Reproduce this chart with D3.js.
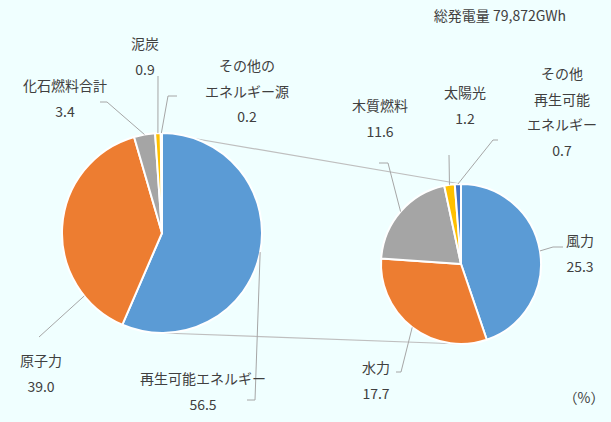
<!DOCTYPE html>
<html><head><meta charset="utf-8">
<script src="https://cdn.jsdelivr.net/npm/d3@7/dist/d3.min.js"></script>
<style>
html,body{margin:0;padding:0;background:#f0ffff;}
svg{display:block;}
text{font-family:"Noto Sans CJK JP","Noto Sans",sans-serif;font-size:14px;fill:#404040;}
</style></head>
<body><svg id="c" width="611" height="422"></svg>
<script>
// ---- data ----
const mainCategories = ["再生可能エネルギー","原子力","化石燃料合計","泥炭","その他のエネルギー源"];
const mainValues = [56.5, 39.0, 3.4, 0.9, 0.2];
const mainLabelLines = [["再生可能エネルギー"],["原子力"],["化石燃料合計"],["泥炭"],["その他の","エネルギー源"]];
const subCategories = ["風力","水力","木質燃料","太陽光","その他再生可能エネルギー"];
const subValues = [25.3, 17.7, 11.6, 1.2, 0.7];
const subLabelLines = [["風力"],["水力"],["木質燃料"],["太陽光"],["その他","再生可能","エネルギー"]];
const totalLabel = "総発電量 79,872GWh";
const unitLabel = "（%）";
const colors = ["#5B9BD5","#ED7D31","#A5A5A5","#FFC000","#4472C4"];

// ---- layout ----
const mainPie = {cx:162, cy:233, r:100};
const subPie = {cx:461, cy:264, r:80};
const lineGap = 25.5;
// label position (x center, y of first line) ; leader elbow points ; optional anchor angle (deg)
const mainLayout = [
  {x:203, y:378, elbow:[[247,400],[255,400]], angle:101},
  {x:41, y:360, elbow:[[39,337]], angle:231},
  {x:65, y:85, elbow:[[100,102],[107,102]]},
  {x:145, y:43, elbow:[[158,76]]},
  {x:247, y:65, elbow:[[177,96],[168,96]]}
];
const subLayout = [
  {x:580, y:240, elbow:[[563,247],[553,247]]},
  {x:376, y:367, elbow:[[396,372],[401,372]]},
  {x:380, y:105, elbow:[[379,163],[388,163]]},
  {x:465, y:92, elbow:[[449,155]]},
  {x:562, y:73, elbow:[[498,140],[493,140]]}
];

const svg = d3.select("#c");
const pie = d3.pie().sort(null).value(d=>d);
const rad = Math.PI/180;

function pt(p, ang){ // ang in radians, clockwise from 12 o'clock
  return [p.cx + p.r*Math.sin(ang), p.cy - p.r*Math.cos(ang)];
}

// connector lines between pies
const connG = svg.append("g");
[0, Math.PI].forEach(a=>{
  const a1 = pt(mainPie, a), a2 = pt(subPie, a);
  connG.append("line").attr("x1",a1[0]).attr("y1",a1[1]).attr("x2",a2[0]).attr("y2",a2[1])
    .attr("stroke","#BFBFBF").attr("stroke-width",1.2);
});

function drawPie(p, values, labelLines, layout){
  const arcs = pie(values);
  const arc = d3.arc().innerRadius(0).outerRadius(p.r);
  const g = svg.append("g").attr("transform",`translate(${p.cx},${p.cy})`);
  g.selectAll("path").data(arcs).enter().append("path")
    .attr("d",arc).attr("fill",(d,i)=>colors[i])
    .attr("stroke","#ffffff").attr("stroke-width",2).attr("stroke-linejoin","round");
  const lg = svg.append("g");
  arcs.forEach((d,i)=>{
    const L = layout[i];
    const ang = L.angle!==undefined ? L.angle*rad : (d.startAngle+d.endAngle)/2;
    const end = pt(p, ang);
    const pts = L.elbow.concat([end]);
    lg.append("path").attr("d", d3.line()(pts)).attr("fill","none")
      .attr("stroke","#A6A6A6").attr("stroke-width",1);
    const lines = labelLines[i].concat([values[i].toFixed(1)]);
    lines.forEach((t,k)=>{
      lg.append("text").attr("x",L.x).attr("y",L.y+k*lineGap)
        .attr("text-anchor","middle").attr("dominant-baseline","central").text(t);
    });
  });
}
drawPie(mainPie, mainValues, mainLabelLines, mainLayout);
drawPie(subPie, subValues, subLabelLines, subLayout);

svg.append("text").attr("x",500).attr("y",15).attr("text-anchor","middle")
  .attr("dominant-baseline","central").text(totalLabel);
svg.append("text").attr("x",584).attr("y",397).attr("text-anchor","middle")
  .attr("dominant-baseline","central").text(unitLabel);
</script></body></html>
